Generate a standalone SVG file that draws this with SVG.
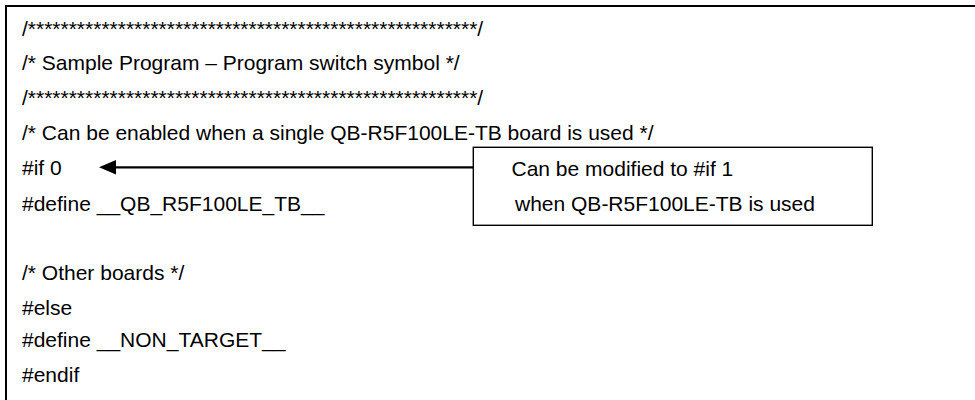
<svg xmlns="http://www.w3.org/2000/svg" width="975" height="400" viewBox="0 0 975 400">
<style>
.t{font-family:"Liberation Sans",Arial,sans-serif;font-size:21px;fill:#000}
.frame{fill:none;stroke:#000;stroke-width:2}
.box{fill:#fff;stroke:#000;stroke-width:1.4}
.conn{stroke:#000;stroke-width:2.3;fill:none}
.head{fill:#000}
</style>
<rect width="975" height="400" fill="#fff"/>
<g id="frame">
<path class="frame" d="M6,410 V6 H985"/>
</g>
<g id="code">
<text class="t" x="22" y="36">/*******************************************************/</text>
<text class="t" x="22" y="70">/* Sample Program – Program switch symbol */</text>
<text class="t" x="22" y="105">/*******************************************************/</text>
<text class="t" x="22" y="140">/* Can be enabled when a single QB-R5F100LE-TB board is used */</text>
<text class="t" x="22" y="175">#if 0</text>
<text class="t" x="22" y="211">#define __QB_R5F100LE_TB__</text>
<text class="t" x="22" y="280">/* Other boards */</text>
<text class="t" x="22" y="315">#else</text>
<text class="t" x="22" y="347">#define __NON_TARGET__</text>
<text class="t" x="22" y="382">#endif</text>
</g>
<g id="connectors">
<line class="conn" x1="473" y1="167.3" x2="112" y2="167.3"/>
<polygon class="head" points="99,167.3 116,160 116,174.6"/>
</g>
<g id="callout">
<rect class="box" x="473.3" y="147.3" width="399" height="78"/>
<text class="t" x="511.5" y="175.5">Can be modified to #if 1</text>
<text class="t" x="515" y="211">when QB-R5F100LE-TB is used</text>
</g>
</svg>
